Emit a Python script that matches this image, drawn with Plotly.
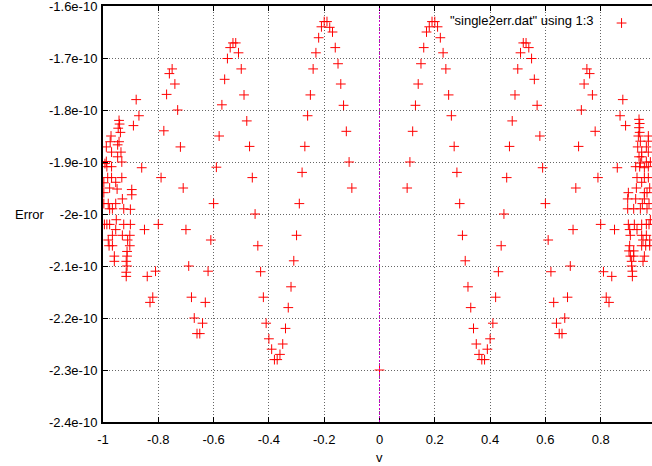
import plotly.graph_objects as go

# ---- data (error values in units of 1e-10) ----
v_left = [-0.89, -0.88, -0.87, -0.86, -0.85, -0.84, -0.83, -0.82, -0.81, -0.80,
          -0.79, -0.78, -0.77, -0.76, -0.75, -0.74, -0.73, -0.72, -0.71, -0.70,
          -0.69, -0.68, -0.67, -0.66, -0.65, -0.64, -0.63, -0.62, -0.61, -0.60,
          -0.59, -0.58, -0.57, -0.56, -0.55, -0.54, -0.53, -0.52, -0.51, -0.50,
          -0.49, -0.48, -0.47, -0.46, -0.45, -0.44, -0.43, -0.42, -0.41, -0.40,
          -0.39, -0.38, -0.37, -0.36, -0.35, -0.34, -0.33, -0.32, -0.31, -0.30,
          -0.29, -0.28, -0.27, -0.26, -0.25, -0.24, -0.23, -0.22, -0.21, -0.20,
          -0.19, -0.18, -0.17, -0.16, -0.15, -0.14, -0.13, -0.12, -0.11, -0.10]
err_left = [-1.830, -1.780, -1.811, -1.911, -2.030, -2.120, -2.170, -2.160, -2.110, -2.020,
            -1.930, -1.840, -1.770, -1.730, -1.721, -1.750, -1.800, -1.871, -1.950, -2.030,
            -2.100, -2.160, -2.200, -2.230, -2.230, -2.210, -2.170, -2.110, -2.050, -1.980,
            -1.910, -1.850, -1.790, -1.741, -1.701, -1.680, -1.671, -1.671, -1.690, -1.721,
            -1.771, -1.821, -1.870, -1.930, -2.000, -2.061, -2.111, -2.160, -2.210, -2.240,
            -2.260, -2.280, -2.280, -2.270, -2.250, -2.220, -2.180, -2.140, -2.090, -2.041,
            -1.980, -1.920, -1.870, -1.811, -1.771, -1.721, -1.690, -1.661, -1.640, -1.630,
            -1.630, -1.641, -1.650, -1.680, -1.711, -1.750, -1.791, -1.841, -1.900, -1.950]

v_center = [0.0]
err_center = [-2.300]

v_right = [0.10, 0.11, 0.12, 0.13, 0.14, 0.15, 0.16, 0.17, 0.18, 0.19,
           0.20, 0.21, 0.22, 0.23, 0.24, 0.25, 0.26, 0.27, 0.28, 0.29,
           0.30, 0.31, 0.32, 0.33, 0.34, 0.35, 0.36, 0.37, 0.38, 0.39,
           0.40, 0.41, 0.42, 0.43, 0.44, 0.45, 0.46, 0.47, 0.48, 0.49,
           0.50, 0.51, 0.52, 0.53, 0.54, 0.55, 0.56, 0.57, 0.58, 0.59,
           0.60, 0.61, 0.62, 0.63, 0.64, 0.65, 0.66, 0.67, 0.68, 0.69,
           0.70, 0.71, 0.72, 0.73, 0.74, 0.75, 0.76, 0.77, 0.78, 0.79,
           0.80, 0.81, 0.82, 0.83, 0.84, 0.85, 0.86, 0.87, 0.88, 0.89]
err_right = [-1.950, -1.900, -1.841, -1.791, -1.750, -1.711, -1.680, -1.650, -1.640, -1.630,
             -1.630, -1.640, -1.661, -1.690, -1.721, -1.771, -1.811, -1.870, -1.920, -1.980,
             -2.041, -2.090, -2.140, -2.180, -2.220, -2.250, -2.270, -2.280, -2.280, -2.260,
             -2.240, -2.210, -2.160, -2.111, -2.061, -2.000, -1.930, -1.870, -1.821, -1.771,
             -1.721, -1.690, -1.671, -1.671, -1.680, -1.701, -1.741, -1.791, -1.850, -1.911,
             -1.980, -2.050, -2.111, -2.170, -2.210, -2.230, -2.230, -2.200, -2.160, -2.100,
             -2.030, -1.950, -1.870, -1.800, -1.750, -1.721, -1.730, -1.771, -1.841, -1.930,
             -2.020, -2.111, -2.160, -2.170, -2.120, -2.030, -1.911, -1.811, -1.780, -1.830]

v_cluster_left = [-0.942, -0.940, -0.945, -0.937, -0.971, -0.974, -0.942, -0.947, -0.988, -0.969,
                  -0.935, -0.947, -0.988, -0.993, -0.986, -0.969, -0.932, -0.983, -0.969, -0.932,
                  -0.954, -0.997, -0.976, -0.949, -0.896, -0.997, -0.896, -0.930, -0.997, -0.981,
                  -0.954, -0.976, -0.966, -0.925, -0.901, -0.952, -0.995, -0.986, -0.976, -0.925,
                  -0.901, -0.954, -0.966, -0.930, -0.903, -0.981, -0.911, -0.966, -0.978, -0.903,
                  -0.959, -0.913, -0.913, -0.959, -0.916, -0.913, -0.916, -0.916]
err_cluster_left = [-1.820, -1.827, -1.835, -1.843, -1.850, -1.861, -1.861, -1.867, -1.871, -1.881,
                    -1.881, -1.890, -1.899, -1.903, -1.909, -1.909, -1.900, -1.930, -1.930, -1.930,
                    -1.939, -1.940, -1.950, -1.952, -1.953, -1.959, -1.963, -1.971, -1.980, -1.980,
                    -1.980, -1.990, -1.990, -1.990, -1.991, -2.011, -2.020, -2.020, -2.020, -2.020,
                    -2.020, -2.030, -2.041, -2.041, -2.041, -2.050, -2.050, -2.061, -2.061, -2.061,
                    -2.081, -2.072, -2.081, -2.091, -2.091, -2.100, -2.112, -2.120]

v_cluster_right = [0.9386, 0.941, 0.9386, 0.941, 0.9362, 0.9434, 0.9723, 0.9723, 0.9338, 0.9482,
                   0.9651, 0.9723, 0.9386, 0.9482, 0.9434, 0.9651, 0.9796, 0.9265, 0.941, 0.9579,
                   0.9723, 0.9313, 0.9579, 0.9723, 0.9482, 0.929, 0.9579, 0.9675, 0.9772, 0.900,
                   0.8976, 0.9265, 0.9579, 0.9506, 0.9748, 0.8976, 0.9193, 0.9434, 0.9675, 0.900,
                   0.9217, 0.9482, 0.9651, 0.9748, 0.9796, 0.9048, 0.9313, 0.9072, 0.9482, 0.9651,
                   0.953, 0.9772, 0.9048, 0.9482, 0.9627, 0.9772, 0.9024, 0.9193, 0.9072, 0.9193,
                   0.9579, 0.912, 0.953, 0.912, 0.9145, 0.9145]
err_cluster_right = [-1.818, -1.826, -1.834, -1.843, -1.850, -1.860, -1.850, -1.860, -1.871, -1.881,
                     -1.871, -1.881, -1.890, -1.890, -1.902, -1.900, -1.900, -1.909, -1.909, -1.911,
                     -1.909, -1.930, -1.930, -1.930, -1.939, -1.950, -1.959, -1.959, -1.950, -1.959,
                     -1.971, -1.971, -1.971, -1.980, -1.980, -1.990, -1.990, -1.990, -1.990, -2.020,
                     -2.020, -2.020, -2.020, -2.020, -2.011, -2.030, -2.030, -2.041, -2.041, -2.041,
                     -2.050, -2.050, -2.061, -2.061, -2.061, -2.061, -2.071, -2.071, -2.081, -2.081,
                     -2.081, -2.091, -2.091, -2.100, -2.110, -2.120]

x_ticks = [-1, -0.8, -0.6, -0.4, -0.2, 0, 0.2, 0.4, 0.6, 0.8, 1]
x_tick_labels = ["-1", "-0.8", "-0.6", "-0.4", "-0.2", "0", "0.2", "0.4", "0.6", "0.8", "1"]
y_ticks = [-1.6e-10, -1.7e-10, -1.8e-10, -1.9e-10, -2.0e-10, -2.1e-10, -2.2e-10, -2.3e-10, -2.4e-10]
y_tick_labels = ["-1.6e-10", "-1.7e-10", "-1.8e-10", "-1.9e-10", "-2e-10",
                 "-2.1e-10", "-2.2e-10", "-2.3e-10", "-2.4e-10"]

SCALE = 1e-10
v_all = v_cluster_left + v_left + v_center + v_right + v_cluster_right
err_all = [e * SCALE for e in (err_cluster_left + err_left + err_center + err_right + err_cluster_right)]

FONT = "Liberation Sans, Arial, sans-serif"
FS = 13

fig = go.Figure()
fig.add_trace(go.Scatter(
    x=v_all, y=err_all, mode="markers", name=" ",
    marker=dict(symbol="cross-thin", size=7, color="#ff0000",
                line=dict(color="#ff0000", width=1)),
))

axis_common = dict(
    showline=True, linecolor="black", linewidth=2,
    ticks="inside", ticklen=5, tickcolor="black", tickwidth=1,
    showgrid=True, gridcolor="#666666", griddash="1px,2px", gridwidth=1,
    zeroline=False, ticklabeloverflow="allow",
    tickfont=dict(family=FONT, size=FS, color="black"),
)

fig.update_layout(
    width=652, height=466,
    margin=dict(l=103, r=0, t=6, b=44, autoexpand=False),
    paper_bgcolor="white", plot_bgcolor="white",
    font=dict(family=FONT, size=FS, color="black"),
    xaxis=dict(range=[-1, 0.98553], tickvals=x_ticks, ticktext=x_tick_labels,
               mirror="ticks", ticklabelstandoff=4, **axis_common),
    yaxis=dict(range=[-2.4e-10, -1.6e-10], tickvals=y_ticks, ticktext=y_tick_labels,
               mirror=False, ticklabelstandoff=1, **axis_common),
    showlegend=True,
    legend=dict(
        x=0.998, y=0.995, xanchor="right", yanchor="top",
        orientation="h", bgcolor="rgba(0,0,0,0)",
        title=dict(text='"single2err.dat" using 1:3', side="left",
                   font=dict(family=FONT, size=FS, color="black")),
        font=dict(family=FONT, size=FS, color="black"),
    ),
    annotations=[
        dict(text="Error", xref="paper", yref="paper", x=-0.133, y=0.4976,
             showarrow=False, xanchor="center", yanchor="middle",
             font=dict(family=FONT, size=FS, color="black")),
        dict(text="v", xref="x", yref="paper", x=0, y=-0.0865,
             showarrow=False, xanchor="center", yanchor="middle",
             font=dict(family=FONT, size=FS, color="black")),
    ],
    shapes=[
        dict(type="line", xref="x", yref="paper", x0=0, x1=0, y0=0, y1=1,
             line=dict(color="rgb(200,0,200)", width=1, dash="2px,2px"), layer="above"),
    ],
)

fig.write_html("out.html", config={"displayModeBar": False},
               post_script="document.body.style.margin='0px';")
